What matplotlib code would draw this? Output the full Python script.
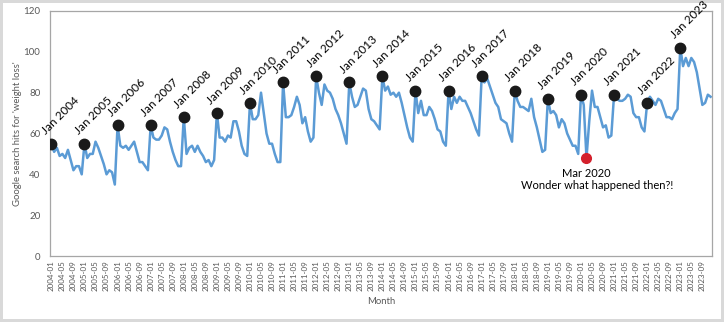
import matplotlib
matplotlib.use('Agg')
import matplotlib.pyplot as plt
import numpy as np
import pandas as pd

plt.rcParams['font.family'] = ['Lato', 'DejaVu Sans']

# monthly Google search interest for "weight loss", Jan 2004 - Dec 2023
y2004 = [55, 51, 53, 49, 50, 48, 52, 47, 42, 44, 44, 40]
y2005 = [55, 48, 50, 50, 56, 53, 49, 45, 40, 42, 41, 35]
y2006 = [64, 54, 53, 54, 52, 54, 56, 51, 46, 46, 44, 42]
y2007 = [64, 58, 57, 57, 59, 63, 62, 56, 51, 47, 44, 44]
y2008 = [68, 50, 53, 54, 51, 54, 51, 49, 46, 47, 44, 47]
y2009 = [70, 58, 58, 56, 59, 58, 66, 66, 61, 54, 50, 49]
y2010 = [75, 67, 67, 69, 80, 70, 60, 55, 55, 50, 46, 46]
y2011 = [85, 68, 68, 69, 73, 78, 74, 65, 68, 61, 56, 58]
y2012 = [88, 80, 74, 84, 81, 80, 77, 72, 69, 65, 60, 55]
y2013 = [85, 78, 73, 74, 78, 82, 81, 72, 67, 66, 64, 62]
y2014 = [88, 81, 83, 79, 80, 78, 80, 75, 69, 63, 58, 56]
y2015 = [81, 70, 76, 69, 69, 73, 71, 67, 62, 61, 56, 54]
y2016 = [81, 72, 78, 75, 78, 76, 76, 73, 70, 66, 62, 59]
y2017 = [88, 85, 87, 83, 79, 75, 73, 67, 66, 65, 60, 56]
y2018 = [81, 76, 73, 73, 72, 71, 77, 68, 63, 57, 51, 52]
y2019 = [77, 70, 71, 69, 63, 67, 65, 60, 57, 54, 54, 50]
y2020 = [79, 74, 48, 66, 81, 73, 73, 68, 63, 64, 58, 59]
y2021 = [79, 77, 76, 76, 77, 79, 78, 70, 68, 68, 63, 61]
y2022 = [75, 78, 76, 74, 77, 76, 72, 68, 68, 67, 70, 72]
y2023 = [102, 93, 97, 93, 97, 95, 90, 82, 74, 75, 79, 78]

hits = np.array(y2004 + y2005 + y2006 + y2007 + y2008 + y2009 + y2010 +
                y2011 + y2012 + y2013 + y2014 + y2015 + y2016 + y2017 +
                y2018 + y2019 + y2020 + y2021 + y2022 + y2023)
months = pd.date_range('2004-01-01', periods=len(hits), freq='MS')
month_labels = months.strftime('%Y-%m')
highlight = '2020-03'

x = np.arange(len(hits))

fig = plt.figure(figsize=(7.24, 3.22), dpi=100)
fig.patch.set_edgecolor('#d9d9d9')
fig.patch.set_linewidth(3)
ax = fig.add_axes([50 / 724, 1 - 256 / 322, 662 / 724, 245 / 322])

ax.plot(x, hits, color='#5B9BD5', lw=1.8, zorder=2)

# January markers with rotated labels
jan = np.where(months.month == 1)[0]
ax.plot(x[jan], hits[jan], 'o', color='#1a1a1a', ms=7.5, zorder=3)
for i in jan:
    ax.annotate(months[i].strftime('Jan %Y'), (x[i], hits[i]),
                xytext=(-3, 5), textcoords='offset points',
                rotation=45, rotation_mode='anchor', ha='left', va='bottom',
                fontsize=8.5, color='black', zorder=4)

# the odd one out
k = list(month_labels).index(highlight)
ax.plot(x[k], hits[k], 'o', color='#D4202C', ms=7, zorder=3)
ax.text(x[k], hits[k] - 5, 'Mar 2020', ha='center', va='top', fontsize=8)
ax.text(x[k] + 4, hits[k] - 11, 'Wonder what happened then?!',
        ha='center', va='top', fontsize=8)

ax.set_xlim(-0.5, len(hits) - 0.5)
ax.set_ylim(0, 120)
ax.set_yticks(range(0, 121, 20))
ax.set_xticks(x[::4])
ax.set_xticklabels(month_labels[::4], rotation=90, fontsize=5.8, color='#595959')
ax.tick_params(axis='y', labelsize=7, colors='#595959', length=0, pad=7)
ax.tick_params(axis='x', length=0, pad=3)
for s in ax.spines.values():
    s.set_color('#a6a6a6')
    s.set_linewidth(0.9)

ax.set_ylabel("Google search hits for 'weight loss'", fontsize=6.8,
              color='#595959', labelpad=1)
ax.set_xlabel('Month', fontsize=6.8, color='#595959', labelpad=4)

fig.savefig('out.png', dpi=100, facecolor='white', edgecolor=fig.patch.get_edgecolor())
